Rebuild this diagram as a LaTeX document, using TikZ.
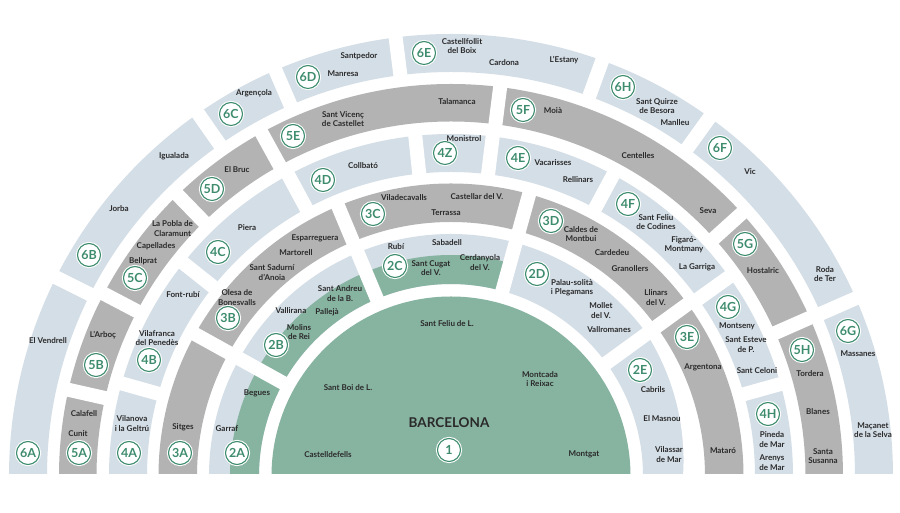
\documentclass[tikz,border=0pt]{standalone}
\usepackage{fontspec}
\setmainfont{Lato}
\definecolor{lightz}{HTML}{D4DEE7}
\definecolor{grayz}{HTML}{B3B3B3}
\definecolor{greenz}{HTML}{87B3A1}
\definecolor{dgreen}{HTML}{3E8C6E}
\definecolor{txt}{HTML}{2A2A2A}
\newcommand{\myannulus}[5]{\fill[#1] (#2:#5pt) arc[start angle=#2,end angle=#3,radius=#5pt] -- (#3:#4pt) arc[start angle=#3,end angle=#2,radius=#4pt] -- cycle;}
\begin{document}
\begin{tikzpicture}[x=1pt,y=1pt,
  town/.style={font=\bfseries\fontsize{8}{9.4}\selectfont, text=txt, align=center, inner sep=0pt},
  zlab/.style={circle, draw=dgreen, line width=1.1pt, fill=white, minimum size=23pt, inner sep=0pt,
     font=\bfseries\fontsize{12.5}{12.5}\selectfont, text=dgreen, preaction={draw=white, line width=3.2pt}},
  gapline/.style={white, line width=14pt},
  capital/.style={font=\bfseries\fontsize{13.5}{14}\selectfont, text=txt, inner sep=0pt}]
\useasboundingbox (0,0) rectangle (900,513);
\fill[white] (0,0) rectangle (900,513);
\begin{scope}[shift={(451,37)}]
  % zone 1
  \fill[greenz] (0:179.5pt) arc[start angle=0,end angle=180,radius=179.5pt] -- cycle;
  % ring 2
  \myannulus{lightz}{0}{180}{192}{242}
  \myannulus{greenz}{74.5}{180}{192}{221}
  \fill[white] plot[domain=0:36,samples=30] (\x:{232+10*\x/36}) -- (36:250pt) arc[start angle=36,end angle=0,radius=250pt] -- cycle;
  % ring 3
  \myannulus{grayz}{0}{180}{254}{292.5}
  % ring 4
  \myannulus{lightz}{0}{180}{304}{342}
  % ring 5
  \myannulus{grayz}{0}{180}{354.5}{392}
  % ring 6
  \myannulus{lightz}{0}{180}{404}{442}
  % gaps
  \foreach \a in {151,112.7,74.5,36} \draw[gapline] (\a:186pt) -- (\a:298pt);
  \foreach \a in {164.3,141.5,118.4,96,83,61.7,35.6,15.6} \draw[gapline] (\a:299pt) -- (\a:347pt);
  \foreach \a in {167.3,152.3,134.2,118.9,82.8,42.1,23.8} \draw[gapline] (\a:349pt) -- (\a:397pt);
  \foreach \a in {153.3,124.9,113.4,97.2,70,54.2,23.7} \draw[gapline] (\a:399pt) -- (\a:447pt);
\end{scope}
\fill[white] (0,0) rectangle (900,39);
\begin{scope}[shift={(0,513)}, yscale=-1]
  % zone 1
  \node[capital] (barcelona) at (449,423) {BARCELONA};
  \node[zlab] (z1) at (449,450) {1};
  \node[town] (santfeliul) at (447,324) {Sant Feliu de L.};
  \node[town] (santboi) at (348,388) {Sant Boi de L.};
  \node[town] (montcada) at (540,379) {Montcada\\i Reixac};
  \node[town] (castelldefels) at (328,455) {Castelldefells};
  \node[town] (montgat) at (584,454) {Montgat};
  % ring 2
  \node[zlab] (z2A) at (237,453) {2A};
  \node[town] (garraf) at (227,429) {Garraf};
  \node[town] (begues) at (257,393) {Begues};
  \node[zlab] (z2B) at (276,345) {2B};
  \node[town] (vallirana) at (291,311) {Vallirana};
  \node[town] (molins) at (299,332) {Molins\\de Rei};
  \node[town] (palleja) at (327,312) {Pallejà};
  \node[town] (santandreu) at (340,293.5) {Sant Andreu\\de la B.};
  \node[zlab] (z2C) at (395,266) {2C};
  \node[town] (rubi) at (396,247) {Rubí};
  \node[town] (sabadell) at (447,243) {Sabadell};
  \node[town] (santcugat) at (431,268) {Sant Cugat\\del V.};
  \node[town] (cerdanyola) at (480,262.5) {Cerdanyola\\del V.};
  \node[zlab] (z2D) at (537,274) {2D};
  \node[town] (palau) at (572,287.5) {Palau-solità\\i Plegamans};
  \node[town] (mollet) at (601,310.5) {Mollet\\del V.};
  \node[town] (vallromanes) at (609,330) {Vallromanes};
  \node[zlab] (z2E) at (640,370) {2E};
  \node[town] (cabrils) at (653,390) {Cabrils};
  \node[town] (masnou) at (662,419) {El Masnou};
  \node[town] (vilassar) at (669,454.5) {Vilassar\\de Mar};
  % ring 3
  \node[zlab] (z3A) at (180,453) {3A};
  \node[town] (sitges) at (183,427) {Sitges};
  \node[zlab] (z3B) at (228,318) {3B};
  \node[town] (olesa) at (237,297.5) {Olesa de\\Bonesvalls};
  \node[town] (santsadurni) at (272,272.5) {Sant Sadurní\\d’Anoia};
  \node[town] (martorell) at (296,253) {Martorell};
  \node[town] (esparreguera) at (315,238) {Esparreguera};
  \node[zlab] (z3C) at (373,214) {3C};
  \node[town] (viladecavalls) at (404,198) {Viladecavalls};
  \node[town] (castellar) at (477,197) {Castellar del V.};
  \node[town] (terrassa) at (446,213) {Terrassa};
  \node[zlab] (z3D) at (551,221) {3D};
  \node[town] (caldes) at (581,234) {Caldes de\\Montbui};
  \node[town] (cardedeu) at (612,253) {Cardedeu};
  \node[town] (granollers) at (630,269) {Granollers};
  \node[town] (llinars) at (656,297.5) {Llinars\\del V.};
  \node[zlab] (z3E) at (687,337) {3E};
  \node[town] (argentona) at (703,367) {Argentona};
  \node[town] (mataro) at (723,451) {Mataró};
  % ring 4
  \node[zlab] (z4A) at (129,453) {4A};
  \node[town] (vilanova) at (132,423.5) {Vilanova\\i la Geltrú};
  \node[zlab] (z4B) at (149,360) {4B};
  \node[town] (vilafranca) at (157,338) {Vilafranca\\del Penedès};
  \node[town] (fontrubi) at (183,295) {Font-rubí};
  \node[zlab] (z4C) at (218,252) {4C};
  \node[town] (piera) at (247,228) {Piera};
  \node[zlab] (z4D) at (323,180) {4D};
  \node[town] (collbato) at (363,166) {Collbató};
  \node[zlab] (z4Z) at (445,153) {4Z};
  \node[town] (monistrol) at (464,139) {Monistrol};
  \node[zlab] (z4E) at (518,158) {4E};
  \node[town] (vacarisses) at (553,163) {Vacarisses};
  \node[town] (rellinars) at (578,180) {Rellinars};
  \node[zlab] (z4F) at (628,204) {4F};
  \node[town] (santfeliuc) at (656,222) {Sant Feliu\\de Codines};
  \node[town] (figaro) at (684,245) {Figaró-\\Montmany};
  \node[town] (garriga) at (697,267) {La Garriga};
  \node[zlab] (z4G) at (728,307) {4G};
  \node[town] (montseny) at (737,326) {Montseny};
  \node[town] (santesteve) at (746,344.5) {Sant Esteve\\de P.};
  \node[town] (santceloni) at (757,371) {Sant Celoni};
  \node[zlab] (z4H) at (768,414) {4H};
  \node[town] (pineda) at (772,439.5) {Pineda\\de Mar};
  \node[town] (arenys) at (772,462.5) {Arenys\\de Mar};
  % ring 5
  \node[zlab] (z5A) at (79,453) {5A};
  \node[town] (calafell) at (84,414) {Calafell};
  \node[town] (cunit) at (78,434) {Cunit};
  \node[zlab] (z5B) at (96,365) {5B};
  \node[town] (arboc) at (103,335) {L’Arboç};
  \node[zlab] (z5C) at (135,278) {5C};
  \node[town] (pobla) at (172.5,228.5) {La Pobla de\\Claramunt};
  \node[town] (capellades) at (156,246) {Capellades};
  \node[town] (bellprat) at (143,261) {Bellprat};
  \node[zlab] (z5D) at (212,189) {5D};
  \node[town] (bruc) at (237,170) {El Bruc};
  \node[zlab] (z5E) at (293,136) {5E};
  \node[town] (santvicenc) at (343,119) {Sant Vicenç\\de Castellet};
  \node[town] (talamanca) at (457,102) {Talamanca};
  \node[zlab] (z5F) at (523,110) {5F};
  \node[town] (moia) at (553,111) {Moià};
  \node[town] (centelles) at (638,156) {Centelles};
  \node[town] (seva) at (708,211) {Seva};
  \node[zlab] (z5G) at (745,244) {5G};
  \node[town] (hostalric) at (763,271) {Hostalric};
  \node[zlab] (z5H) at (802,350) {5H};
  \node[town] (tordera) at (810,374) {Tordera};
  \node[town] (blanes) at (818,412) {Blanes};
  \node[town] (santasusanna) at (823,456) {Santa\\Susanna};
  % ring 6
  \node[zlab] (z6A) at (28,453) {6A};
  \node[town] (vendrell) at (48,341) {El Vendrell};
  \node[zlab] (z6B) at (89,255) {6B};
  \node[town] (jorba) at (119,209) {Jorba};
  \node[town] (igualada) at (174,156) {Igualada};
  \node[zlab] (z6C) at (231,114) {6C};
  \node[town] (argencola) at (254,93) {Argençola};
  \node[zlab] (z6D) at (308,77) {6D};
  \node[town] (santpedor) at (359,56) {Santpedor};
  \node[town] (manresa) at (343,74) {Manresa};
  \node[zlab] (z6E) at (424,53) {6E};
  \node[town] (castellfollit) at (462,46) {Castellfollit\\del Boix};
  \node[town] (cardona) at (504,63) {Cardona};
  \node[town] (estany) at (564,60) {L’Estany};
  \node[zlab] (z6H) at (623,87) {6H};
  \node[town] (santquirze) at (657,106) {Sant Quirze\\de Besora};
  \node[town] (manlleu) at (675,123) {Manlleu};
  \node[zlab] (z6F) at (720,148) {6F};
  \node[town] (vic) at (750,172) {Vic};
  \node[town] (roda) at (825,274) {Roda\\de Ter};
  \node[zlab] (z6G) at (848,331) {6G};
  \node[town] (massanes) at (858,354) {Massanes};
  \node[town] (macanet) at (873,430) {Maçanet\\de la Selva};
\end{scope}
\end{tikzpicture}
\end{document}
